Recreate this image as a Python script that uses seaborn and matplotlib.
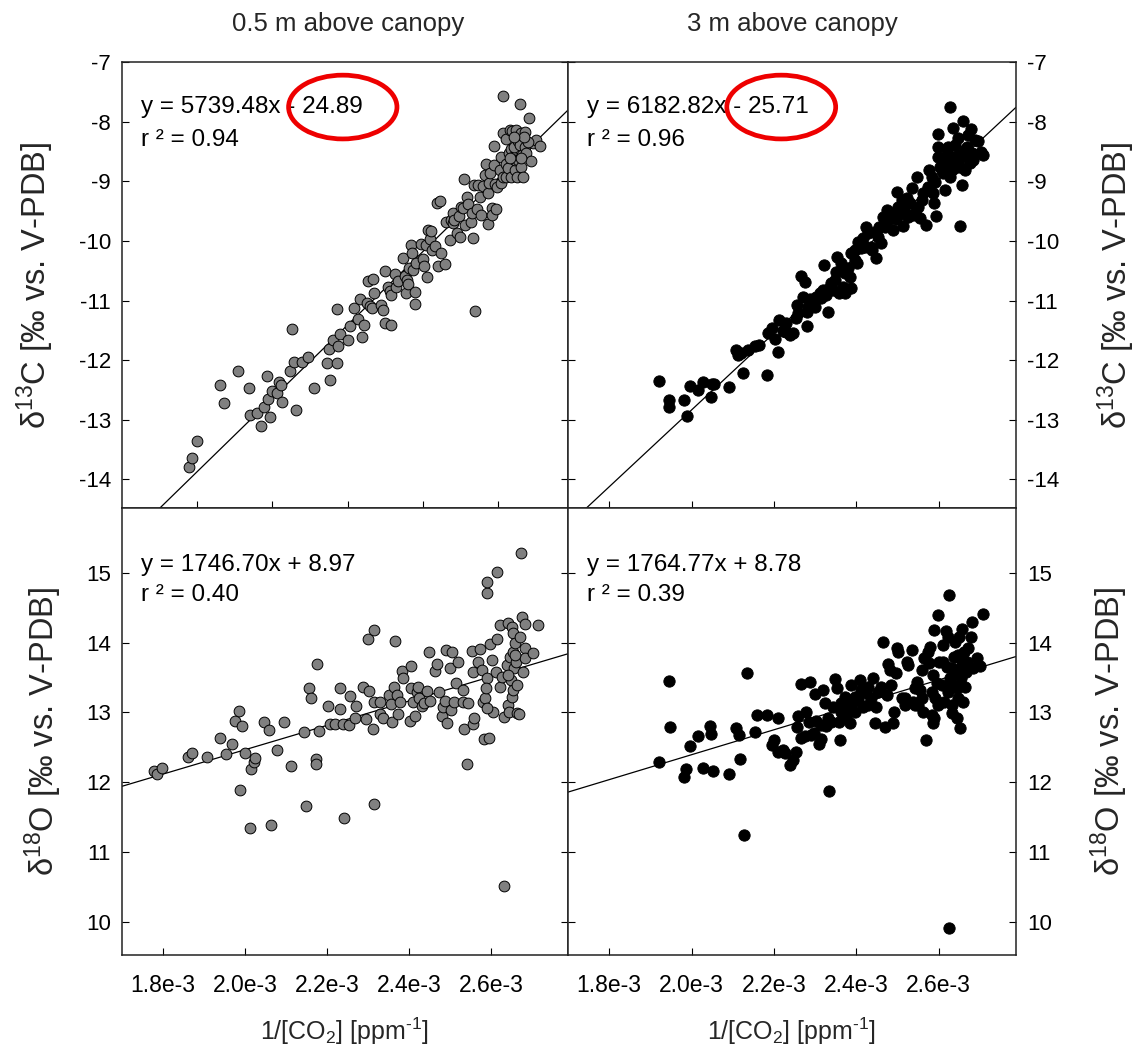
import numpy as np
import pandas as pd
import matplotlib
matplotlib.use("Agg")
import matplotlib.pyplot as plt
import seaborn as sns
from matplotlib.patches import Ellipse

# ---------------- data (x in 1e-3 ppm^-1) ----------------
tl_x = [1.7787,1.7849,1.7982,1.8602,1.8718,1.9072,1.9373,1.9391,1.9577,1.9692,
        1.9772,1.9852,1.9887,1.9923,2.0002,2.0109,2.0162,2.0233,2.0242,2.0463,
        2.0525,2.0569,2.0640,2.0791,2.0933,2.1110,2.1447,2.1500,2.1535,2.1615,
        2.1712,2.1721,2.1757,2.1810,2.2022,2.2058,2.2173,2.2288,2.2341,2.2395,
        2.2439,2.2519,2.2554,2.2589,2.2652,2.2678,2.2705,2.2882,2.2953,2.2997,
        2.3006,2.3086,2.3121,2.3157,2.3165,2.3272,2.3298,2.3351,2.3467,2.3520,
        2.3546,2.3573,2.3600,2.3644,2.3697,2.3715,2.3741,2.3803,2.3794,2.3830,
        2.3963,2.3998,2.4025,2.4078,2.4113,2.4140,2.4184,2.4229,2.4246,2.4335,
        2.4370,2.4406,2.4450,2.4477,2.4601,2.4610,2.4716,2.4742,2.4796,2.4804,
        2.4831,2.4920,2.4964,2.4991,2.5017,2.5062,2.5106,2.5124,2.5168,2.5195,
        2.5283,2.5319,2.5328,2.5363,2.5390,2.5443,2.5478,2.5531,2.5558,2.5602,
        2.5646,2.5690,2.5735,2.5735,2.5770,2.5797,2.5832,2.5850,2.5885,2.5885,
        2.5956,2.5912,2.5983,2.6045,2.6071,2.6089,2.6133,2.6133,2.6133,2.6204,
        2.6222,2.6222,2.6266,2.6293,2.6311,2.6337,2.6355,2.6381,2.6399,2.6426,
        2.6443,2.6461,2.6488,2.6505,2.6532,2.6532,2.6576,2.6576,2.6603,2.6621,
        2.6647,2.6665,2.6709,2.6727,2.6754,2.6816,2.6887,2.6931,2.7020,2.7126,
        2.6798,2.6691,2.6621,2.6328,2.6417]
tl_y = [-13.789,-13.638,-13.358,-12.418,-12.726,-12.189,-12.463,-12.927,-12.894,-13.106,
        -12.782,-12.262,-12.659,-12.955,-12.519,-12.558,-12.374,-12.418,-12.698,-12.178,
        -11.473,-12.038,-12.832,-12.027,-11.943,-12.463,-12.044,-11.809,-12.335,-11.663,
        -11.143,-12.044,-11.764,-11.568,-11.663,-11.428,-11.132,-11.317,-10.975,-11.619,
        -11.412,-11.048,-10.668,-11.093,-11.126,-10.640,-10.880,-11.076,-11.160,-11.384,
        -10.506,-10.768,-10.847,-10.903,-11.417,-10.556,-10.768,-10.668,-10.288,-10.590,
        -10.875,-10.657,-10.729,-10.461,-10.069,-10.209,-10.489,-11.054,-10.864,-10.377,
        -10.058,-10.310,-10.416,-10.069,-10.601,-9.818,-9.963,-9.840,-10.153,-10.081,
        -9.370,-10.422,-9.337,-10.198,-10.383,-9.683,-9.986,-9.650,-9.706,-9.527,
        -9.644,-9.874,-9.583,-9.930,-9.426,-9.443,-8.956,-9.739,-9.258,-9.381,
        -9.678,-9.527,-9.958,-9.057,-11.171,-9.460,-9.068,-9.258,-9.566,-9.079,
        -8.895,-8.716,-9.723,-9.191,-9.035,-8.867,-9.443,-9.566,-8.408,-8.727,
        -9.460,-9.046,-9.091,-8.811,-9.035,-8.587,-7.569,-8.185,-8.923,-8.296,
        -8.710,-8.923,-8.783,-8.531,-8.140,-8.934,-8.464,-8.151,-8.587,-8.431,
        -8.811,-8.643,-8.140,-8.923,-8.643,-8.324,-7.709,-8.392,-8.196,-8.766,
        -8.559,-8.923,-8.168,-8.419,-8.531,-7.944,-8.654,-8.364,-8.308,-8.403,
        -8.336,-8.263,-8.615,-8.615,-8.252]

tr_x = [1.9217,1.9461,1.9461,1.9826,1.9882,1.9964,2.0166,2.0272,2.0475,2.0491,
        2.0556,2.0921,2.1083,2.1140,2.1205,2.1262,2.1367,2.1530,2.1635,2.1838,
        2.1952,2.2016,2.2098,2.2114,2.2219,2.2300,2.2382,2.2463,2.2528,2.2552,
        2.2666,2.2698,2.2755,2.2795,2.2812,2.2868,2.2950,2.2990,2.3031,2.3112,
        2.3193,2.3217,2.3274,2.3315,2.3396,2.3477,2.3518,2.3542,2.3574,2.3639,
        2.3688,2.3720,2.3802,2.3842,2.3883,2.3866,2.3964,2.4029,2.4045,2.4110,
        2.4167,2.4232,2.4288,2.4353,2.4386,2.4451,2.4491,2.4548,2.4613,2.4653,
        2.4694,2.4759,2.4816,2.4897,2.4962,2.4986,2.5019,2.5059,2.5140,2.5165,
        2.5222,2.5262,2.5303,2.5343,2.5384,2.5465,2.5505,2.5546,2.5627,2.5684,
        2.5733,2.5765,2.5830,2.5871,2.5895,2.5911,2.5936,2.5976,2.5992,2.6033,
        2.6073,2.6114,2.6155,2.6195,2.6236,2.6276,2.6276,2.6317,2.6357,2.6398,
        2.6439,2.6479,2.6520,2.6560,2.6577,2.6601,2.6641,2.6682,2.6723,2.6763,
        2.6787,2.6820,2.6844,2.6885,2.6966,2.7023,2.7088,2.6479,2.6641,2.6317,
        2.6138,2.5992,2.5587,2.5424,2.5100,2.4775,2.4532,2.4207,2.3964,2.3720,
        2.3436,2.3152,2.2828,2.2584,2.2300,2.1854,
        2.6398,2.6520,2.6236,2.6073,2.6723]
tr_y = [-12.351,-12.670,-12.793,-12.670,-12.933,-12.430,-12.502,-12.363,-12.625,-12.407,
        -12.402,-12.446,-11.831,-11.915,-11.887,-12.212,-11.831,-11.758,-11.747,-12.251,
        -11.456,-11.641,-11.870,-11.328,-11.507,-11.524,-11.580,-11.552,-11.300,-11.076,
        -10.590,-10.936,-10.685,-11.428,-11.188,-10.981,-11.048,-11.115,-10.936,-10.880,
        -10.824,-10.405,-10.908,-11.188,-10.701,-10.657,-10.517,-10.265,-10.880,-10.377,
        -10.769,-10.880,-10.461,-10.601,-10.797,-10.209,-10.153,-10.377,-10.013,-10.125,
        -9.958,-9.762,-9.874,-10.097,-10.153,-9.846,-10.293,-9.773,-10.041,-9.594,
        -9.762,-9.482,-9.538,-9.818,-9.639,-9.175,-9.426,-9.555,-9.751,-9.482,
        -9.286,-9.594,-9.359,-9.119,-9.566,-8.923,-9.426,-9.622,-9.202,-9.734,
        -9.091,-8.811,-8.923,-9.191,-9.370,-9.007,-9.583,-8.207,-8.587,-8.755,
        -8.615,-8.867,-9.147,-8.475,-8.699,-7.748,-8.923,-8.587,-8.112,-8.392,
        -8.755,-8.280,-9.751,-9.063,-8.587,-7.989,-8.811,-8.419,-8.224,-8.699,
        -8.117,-8.531,-8.643,-8.308,-8.324,-8.503,-8.559,-8.559,-8.475,-8.811,
        -8.643,-8.419,-9.314,-9.538,-9.314,-9.650,-9.930,-10.097,-10.321,-10.545,
        -10.824,-10.964,-11.104,-11.216,-11.384,-11.552,
        -8.643,-8.755,-8.419,-8.811,-8.531]

bl_x = [1.7780,1.7862,1.7984,1.8610,1.8716,1.9074,1.9383,1.9546,1.9693,1.9750,
        1.9847,1.9888,1.9929,2.0010,2.0157,2.0222,2.0254,2.0116,2.0466,2.0580,
        2.0645,2.0791,2.0946,2.1117,2.1442,2.1499,2.1556,2.1621,2.1727,2.1743,
        2.1768,2.1809,2.2028,2.2069,2.2191,2.2329,2.2329,2.2411,2.2395,2.2541,
        2.2574,2.2679,2.2704,2.2883,2.2948,2.3029,2.3005,2.3143,2.3127,2.3151,
        2.3143,2.3290,2.3306,2.3371,2.3518,2.3575,2.3550,2.3631,2.3664,2.3697,
        2.3745,2.3778,2.3835,2.3843,2.4022,2.4047,2.4038,2.4087,2.4136,2.4185,
        2.4226,2.4250,2.4307,2.4364,2.4429,2.4478,2.4510,2.4624,2.4673,2.4738,
        2.4803,2.4836,2.4877,2.4901,2.4934,2.4999,2.5039,2.5015,2.5096,2.5145,
        2.5186,2.5308,2.5324,2.5349,2.5406,2.5446,2.5528,2.5568,2.5552,2.5585,
        2.5690,2.5731,2.5772,2.5812,2.5853,2.5894,2.5878,2.5894,2.5894,2.5829,
        2.5959,2.5975,2.6016,2.6057,2.6122,2.6138,2.6154,2.6219,2.6219,2.6260,
        2.6317,2.6325,2.6382,2.6407,2.6423,2.6447,2.6464,2.6480,2.6504,2.6504,
        2.6529,2.6545,2.6569,2.6586,2.6610,2.6643,2.6683,2.6708,2.6732,2.6748,
        2.6773,2.6830,2.6838,2.6830,2.7033,2.7139,2.6529,2.6627,2.6423,2.6586,
        2.5894]
bl_y = [12.158,12.115,12.206,12.354,12.411,12.354,12.636,12.397,12.540,12.875,
        13.023,11.886,12.803,12.411,12.187,12.292,12.340,11.337,12.856,12.741,
        11.385,12.459,12.865,12.235,12.722,11.662,13.352,13.199,12.330,12.254,
        13.691,12.731,13.090,12.827,12.827,13.352,13.047,11.480,12.827,12.817,
        13.238,12.922,13.090,13.367,12.903,13.309,14.050,14.179,12.760,11.681,
        13.152,13.152,12.975,12.913,13.247,12.865,13.113,13.367,14.016,13.247,
        12.970,13.152,13.596,13.486,12.875,13.658,13.352,13.152,12.951,13.285,
        13.367,13.199,13.090,13.128,13.309,13.863,13.161,13.591,13.687,13.285,
        12.951,13.080,13.166,13.892,12.846,13.639,13.859,13.028,13.152,13.414,
        13.715,13.319,13.152,12.760,12.259,13.133,13.882,13.582,12.836,12.913,
        13.725,13.906,13.605,13.152,13.199,13.486,13.343,14.704,14.871,12.617,
        12.636,13.983,13.749,13.008,13.582,15.014,14.050,14.250,13.367,13.510,
        12.927,10.515,13.677,13.104,14.284,13.008,13.796,13.462,14.226,13.223,
        14.131,13.868,13.629,13.987,13.725,12.985,12.970,14.083,15.291,14.370,
        13.582,13.925,14.260,13.773,13.844,14.250,13.319,13.390,13.534,13.820,
        13.056]

br_x = [1.9217,1.9461,1.9477,1.9826,1.9866,1.9964,2.0166,2.0288,2.0459,2.0475,
        2.0532,2.0921,2.1083,2.1164,2.1181,2.1270,2.1351,2.1546,2.1595,2.1838,
        2.1952,2.2000,2.2098,2.2098,2.2260,2.2382,2.2463,2.2544,2.2560,2.2584,
        2.2666,2.2747,2.2787,2.2868,2.2844,2.2974,2.3031,2.2990,2.3096,2.3152,
        2.3193,2.3234,2.3274,2.3315,2.3331,2.3436,2.3493,2.3542,2.3574,2.3599,
        2.3639,2.3680,2.3720,2.3761,2.3818,2.3866,2.3842,2.3899,2.3964,2.4045,
        2.4086,2.4126,2.4167,2.4232,2.4288,2.4369,2.4410,2.4451,2.4491,2.4532,
        2.4613,2.4653,2.4694,2.4735,2.4775,2.4816,2.4897,2.4921,2.4954,2.4978,
        2.5019,2.5100,2.5181,2.5222,2.5262,2.5343,2.5384,2.5424,2.5465,2.5505,
        2.5546,2.5587,2.5627,2.5651,2.5684,2.5733,2.5765,2.5790,2.5830,2.5871,
        2.5895,2.5871,2.5911,2.5952,2.5976,2.6009,2.5895,2.6073,2.6114,2.6138,
        2.6179,2.6195,2.6220,2.6236,2.6260,2.6276,2.6317,2.6333,2.6357,2.6382,
        2.6398,2.6422,2.6439,2.6463,2.6479,2.6495,2.6520,2.6544,2.6560,2.6577,
        2.6601,2.6625,2.6641,2.6666,2.6698,2.6723,2.6788,2.6804,2.6844,2.6925,
        2.7007,2.7088,2.6260,2.6114,2.6317,2.6520,2.6439,2.5992,2.5830,2.5587,
        2.5424,2.5181,2.4856,2.4288,2.3964,2.3639,2.3396,2.3152,2.2909,2.2666,
        2.2219]
br_y = [12.292,13.453,12.784,12.067,12.182,12.521,12.660,12.197,12.808,12.688,
        12.163,12.115,12.770,12.674,12.330,11.241,13.558,12.722,12.961,12.961,
        12.531,12.602,12.922,12.426,12.411,12.244,12.316,12.435,12.793,12.951,
        13.400,12.665,13.008,13.429,12.865,12.698,12.875,13.262,12.540,12.612,
        13.319,13.128,12.808,12.913,11.872,13.080,13.472,13.343,12.856,12.602,
        13.128,13.008,13.223,12.913,13.056,13.390,12.841,13.128,13.223,13.176,
        13.462,13.319,13.080,13.271,13.367,13.199,13.486,12.841,13.080,13.295,
        13.367,14.002,12.793,13.247,13.687,13.605,12.841,13.008,13.558,13.916,
        13.868,13.199,13.104,13.725,13.677,13.892,13.152,13.343,13.438,13.104,
        13.319,13.605,13.008,13.773,12.602,13.868,13.701,13.940,13.295,13.534,
        12.913,12.841,13.199,13.414,14.393,13.725,14.179,13.390,13.964,13.152,
        14.164,13.653,14.083,13.295,14.680,13.496,13.104,12.985,13.390,13.796,
        14.011,13.558,12.913,13.820,13.199,14.083,12.779,13.486,14.202,13.677,
        13.152,13.868,13.367,13.582,13.725,13.916,14.083,14.298,13.629,13.773,
        13.668,14.403,9.914,13.725,13.629,13.773,13.343,13.104,12.961,13.199,
        13.104,13.199,13.390,13.104,13.008,13.008,12.865,12.817,12.674,12.626,
        12.459]

# drawn regression lines (slope, intercept in per-ppm units) as they appear
line_slope = [6150.0, 6442.0, 1746.70, 1787.0]
line_intercept = [-24.94, -25.72, 8.97, 8.818]

eq_text = ["y = 5739.48x - 24.89", "y = 6182.82x - 25.71",
           "y = 1746.70x + 8.97", "y = 1764.77x + 8.78"]
r2_text = ["r ² = 0.94", "r ² = 0.96", "r ² = 0.40", "r ² = 0.39"]

col_titles = ["0.5 m above canopy", "3 m above canopy"]
x_tick_vals = [1.8, 2.0, 2.2, 2.4, 2.6]
x_tick_labels = ["1.8e-3", "2.0e-3", "2.2e-3", "2.4e-3", "2.6e-3"]
d13c_ticks = [-14, -13, -12, -11, -10, -9, -8, -7]
d18o_ticks = [10, 11, 12, 13, 14, 15]

# ---------------- style ----------------
sns.set_theme(style="ticks")
plt.rcParams['font.family'] = ['Liberation Sans', 'DejaVu Sans']
plt.rcParams['mathtext.fontset'] = 'custom'
plt.rcParams['mathtext.rm'] = 'Liberation Sans'
plt.rcParams['mathtext.it'] = 'Liberation Sans:italic'
plt.rcParams['mathtext.bf'] = 'Liberation Sans:bold'
plt.rcParams['axes.unicode_minus'] = False

W, H = 1146, 1048
fig = plt.figure(figsize=(W / 100, H / 100), dpi=100)

def frac(x0, y0, x1, y1):
    return [x0 / W, 1 - y1 / H, (x1 - x0) / W, (y1 - y0) / H]

panels = [
    dict(rect=frac(122, 62, 568, 508), x=tl_x, y=tl_y, face="#808080", size=60,
         xlim=(1.6, 2.786), ylim=(-14.48, -7.0), yticks=d13c_ticks, side="left",
         ylabel=r"δ$^{13}$C [‰ vs. V-PDB]", bottom=False, ell=(0.495, 0.899),
         txt=(0.042, 0.900, 0.825)),
    dict(rect=frac(568, 62, 1016, 508), x=tr_x, y=tr_y, face="black", size=66,
         xlim=(1.7, 2.788), ylim=(-14.48, -7.0), yticks=d13c_ticks, side="right",
         ylabel=r"δ$^{13}$C [‰ vs. V-PDB]", bottom=False, ell=(0.476, 0.899),
         txt=(0.042, 0.900, 0.825)),
    dict(rect=frac(122, 508, 568, 955), x=bl_x, y=bl_y, face="#808080", size=60,
         xlim=(1.7, 2.788), ylim=(9.52, 15.93), yticks=d18o_ticks, side="left",
         ylabel=r"δ$^{18}$O [‰ vs. V-PDB]", bottom=True, ell=None,
         txt=(0.042, 0.873, 0.806)),
    dict(rect=frac(568, 508, 1016, 955), x=br_x, y=br_y, face="black", size=66,
         xlim=(1.7, 2.788), ylim=(9.52, 15.93), yticks=d18o_ticks, side="right",
         ylabel=r"δ$^{18}$O [‰ vs. V-PDB]", bottom=True, ell=None,
         txt=(0.042, 0.873, 0.806)),
]

for i, p in enumerate(panels):
    ax = fig.add_axes(p["rect"])
    df = pd.DataFrame({"x": np.array(p["x"]) * 1e-3, "y": p["y"]})
    sns.scatterplot(data=df, x="x", y="y", ax=ax, color=p["face"],
                    edgecolor="black", linewidth=0.7, s=p["size"], zorder=3)
    xl = np.array(p["xlim"]) * 1e-3
    lx = np.array([xl[0], xl[1]])
    ly = line_slope[i] * lx + line_intercept[i]
    sns.lineplot(x=lx, y=ly, ax=ax, color="black", linewidth=0.9, zorder=2)
    ax.set_xlim(*xl)
    ax.set_ylim(*p["ylim"])
    ax.set_xticks(np.array(x_tick_vals) * 1e-3)
    ax.set_yticks(p["yticks"])
    ax.set_yticklabels([str(v) for v in p["yticks"]])
    if p["bottom"]:
        ax.set_xticklabels(x_tick_labels)
        ax.set_xlabel(r"1/[CO$_2$] [ppm$^{\text{-}1}$]", fontsize=18, labelpad=13)
    else:
        ax.set_xticklabels([])
        ax.set_xlabel("")
    ax.tick_params(axis="x", direction="in", length=5, width=0.8, labelsize=16.5,
                   pad=14, top=False, bottom=True, colors="black")
    left = p["side"] == "left"
    ax.tick_params(axis="y", direction="in", length=5, width=0.8, labelsize=16,
                   left=True, right=True, labelleft=left, labelright=not left,
                   pad=8, colors="black")
    ax.set_ylabel(p["ylabel"], fontsize=23.5, labelpad=(16 if left else 26))
    if not left:
        ax.yaxis.set_label_position("right")
    for s in ax.spines.values():
        s.set_visible(True)
        s.set_color("#222222")
        s.set_linewidth(1.1)
    tx, ty1, ty2 = p["txt"]
    ax.text(tx, ty1, eq_text[i], transform=ax.transAxes, fontsize=17.5,
            va="center", ha="left", color="black", zorder=5)
    ax.text(tx, ty2, r2_text[i], transform=ax.transAxes, fontsize=17.5,
            va="center", ha="left", color="black", zorder=5)
    if p["ell"] is not None:
        e = Ellipse(p["ell"], width=0.243, height=0.143, transform=ax.transAxes,
                    fill=False, edgecolor="#ee0000", linewidth=3.4, zorder=6)
        ax.add_patch(e)

fig.text(348 / W, 1 - 24 / H, col_titles[0], ha="center", va="center", fontsize=18.5)
fig.text(792 / W, 1 - 24 / H, col_titles[1], ha="center", va="center", fontsize=18.5)

fig.savefig("out.png", dpi=100)
